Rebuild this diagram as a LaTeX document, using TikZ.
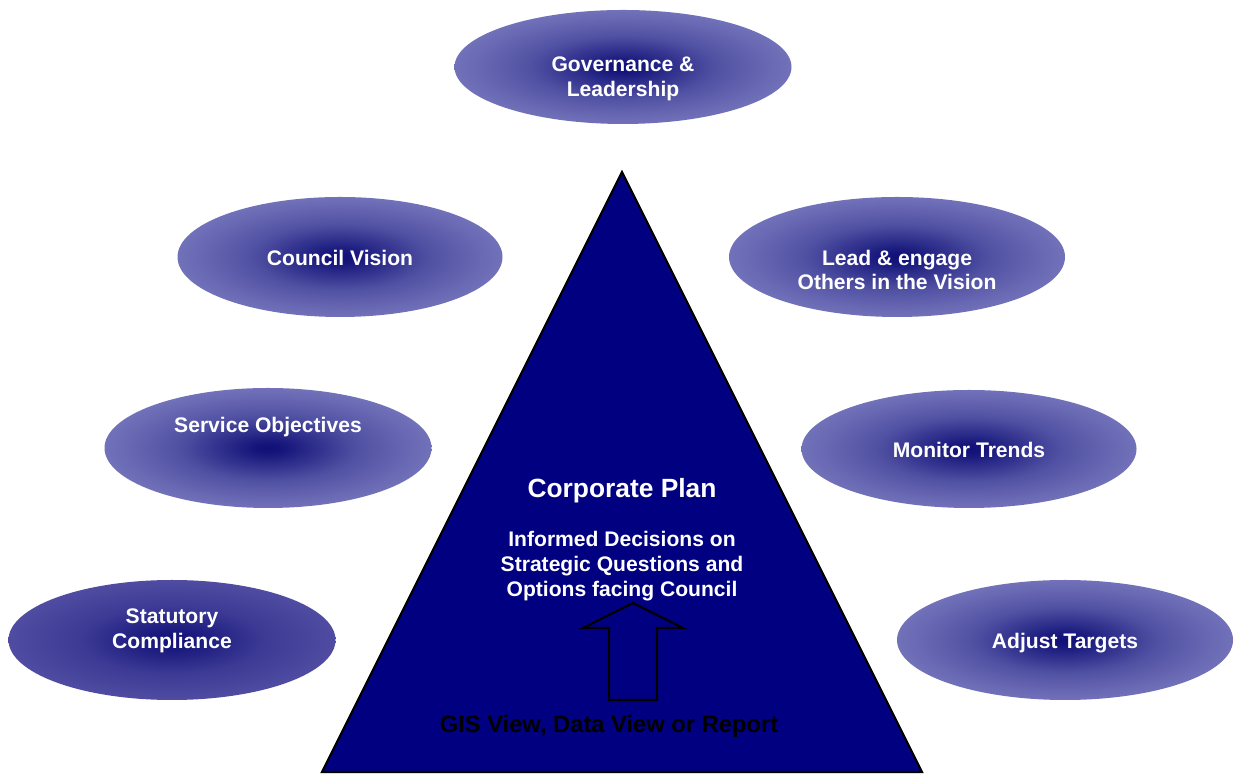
\documentclass[tikz,border=0pt]{standalone}
\usepackage{fontspec}
\setmainfont{Liberation Sans}
\usetikzlibrary{shapes.geometric}

\definecolor{plannavy}{RGB}{0,0,128}
\pgfdeclareradialshading{blob}{\pgfpoint{0bp}{0bp}}{%
  color(0bp)=(rgb,255:red,16;green,16;blue,118);
  color(2bp)=(rgb,255:red,20;green,20;blue,122);
  color(14bp)=(rgb,255:red,82;green,82;blue,164);
  color(30bp)=(rgb,255:red,128;green,128;blue,196);
  color(50bp)=(rgb,255:red,130;green,130;blue,198)}
\pgfdeclareradialshading{darkblob}{\pgfpoint{0bp}{0bp}}{%
  color(0bp)=(rgb,255:red,16;green,16;blue,118);
  color(2bp)=(rgb,255:red,20;green,20;blue,122);
  color(14bp)=(rgb,255:red,60;green,58;blue,148);
  color(30bp)=(rgb,255:red,88;green,84;blue,168);
  color(50bp)=(rgb,255:red,90;green,86;blue,170)}

\tikzset{
  bubble/.style={ellipse,shading=blob,inner sep=0pt},
  label text/.style={text=white,align=center,font=\bfseries\fontsize{12}{14}\selectfont}
}

\begin{document}
\begin{tikzpicture}
  \useasboundingbox (0,0) rectangle (24.72,15.48);

  % the pyramid
  \draw[line width=1.2pt,fill=plannavy] (12.44,12.04) -- (18.44,0.04) -- (6.44,0.04) -- cycle;

  % surrounding ellipses
  \begin{scope}[every node/.style={bubble}]
    \node[minimum width=6.74cm,minimum height=2.28cm] (gov) at (12.46,14.14) {};
    \node[minimum width=6.5cm,minimum height=2.4cm] (vision) at (6.80,10.34) {};
    \node[minimum width=6.72cm,minimum height=2.4cm] (lead) at (17.94,10.34) {};
    \node[minimum width=6.54cm,minimum height=2.4cm] (service) at (5.36,6.52) {};
    \node[minimum width=6.7cm,minimum height=2.36cm] (trends) at (19.38,6.50) {};
    \node[minimum width=6.54cm,minimum height=2.4cm,shading=darkblob] (statutory) at (3.44,2.68) {};
    \node[minimum width=6.72cm,minimum height=2.4cm] (targets) at (21.30,2.68) {};
  \end{scope}

  \begin{scope}[every node/.style={label text}]
    \node (govtxt) at ([yshift=-0.24cm]gov.center) {Governance \&\\Leadership};
    \node (visiontxt) at ([yshift=-0.02cm]vision.center) {Council Vision};
    \node (leadtxt) at ([yshift=-0.26cm]lead.center) {Lead \& engage\\Others in the Vision};
    \node (servicetxt) at ([yshift=0.42cm]service.center) {Service Objectives};
    \node (trendstxt) at ([yshift=-0.02cm]trends.center) {Monitor Trends};
    \node (statutorytxt) at ([yshift=0.18cm]statutory.center) {Statutory\\Compliance};
    \node (targetstxt) at ([yshift=-0.06cm]targets.center) {Adjust Targets};
    \node[font=\bfseries\fontsize{15}{18}\selectfont] (plan) at (12.44,5.66) {Corporate Plan};
    \node (decisions) at (12.44,4.16) {Informed Decisions on\\Strategic Questions and\\Options facing Council};
  \end{scope}

  \node[font=\bfseries\fontsize{13.5}{16}\selectfont] (views) at (12.18,0.96) {GIS View, Data View or Report};

  % hollow arrow pointing up at the decisions
  \draw[line width=1.2pt] (12.18,1.48) -- (12.18,2.92) -- (11.66,2.92) -- (12.66,3.42)
    -- (13.66,2.92) -- (13.14,2.92) -- (13.14,1.48) -- cycle;
\end{tikzpicture}
\end{document}
